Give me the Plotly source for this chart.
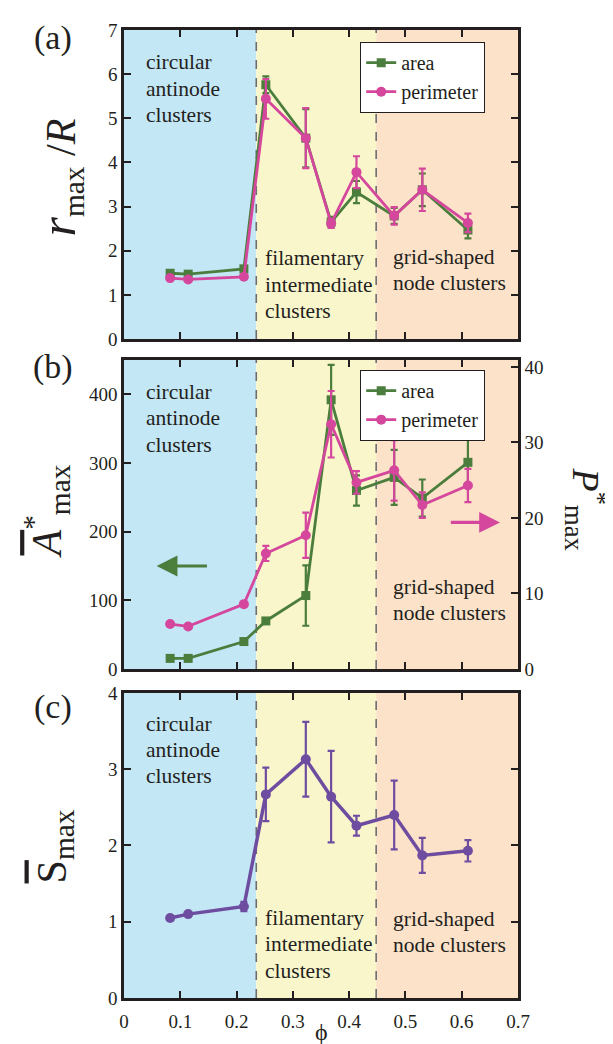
import plotly.graph_objects as go

# ---------------- data ----------------
phi = [0.082, 0.114, 0.213, 0.252, 0.323, 0.368, 0.413, 0.480, 0.530, 0.611]

r_area = [1.49, 1.47, 1.59, 5.76, 4.55, 2.65, 3.33, 2.79, 3.38, 2.47]
r_area_err = [0.0, 0.0, 0.0, 0.19, 0.66, 0.12, 0.25, 0.18, 0.37, 0.19]
r_perim = [1.38, 1.35, 1.41, 5.44, 4.55, 2.62, 3.78, 2.79, 3.38, 2.63]
r_perim_err = [0.0, 0.0, 0.0, 0.45, 0.68, 0.10, 0.36, 0.20, 0.48, 0.21]

A_area = [15.5, 15.5, 40, 70, 107, 392, 260, 279, 249, 301]
A_area_err = [0, 0, 0, 0, 44, 51, 22, 40, 27, 36]
P_perim = [5.95, 5.64, 8.59, 15.3, 17.7, 32.4, 24.7, 26.3, 21.7, 24.3]
P_perim_err = [0, 0, 0, 1.0, 3.0, 4.4, 1.5, 4.0, 1.7, 2.2]

S_vals = [1.05, 1.10, 1.20, 2.67, 3.13, 2.64, 2.26, 2.40, 1.87, 1.93]
S_err = [0.0, 0.0, 0.06, 0.35, 0.49, 0.60, 0.13, 0.45, 0.23, 0.14]

regions = [0.0, 0.235, 0.448, 0.7]
region_colors = ["#c4e7f6", "#faf6cc", "#fbe2c8"]
x_ticks = [0, 0.1, 0.2, 0.3, 0.4, 0.5, 0.6, 0.7]

GREEN = "#4b7d3d"
PINK = "#d4479c"
PURPLE = "#6e4ca0"
INK = "#231f20"
SERIF = "Liberation Serif, Times New Roman, Times, DejaVu Serif, serif"

# ---------------- figure ----------------
W, H = 613, 1044
ML, MR, MT, MB = 116, 103, 19, 54
ph = H - MT - MB


def dom(top_px, bot_px):
    return [(H - MB - bot_px) / ph, (H - MB - top_px) / ph]


dom_a = dom(19, 329)
dom_b = dom(350, 660)
dom_c = dom(684, 990)

fig = go.Figure()


def err(vals, color):
    return dict(type="data", array=vals, visible=True, color=color,
                thickness=2.2, width=3.5)


# panel (a)
fig.add_trace(go.Scatter(x=phi, y=r_area, name="area", mode="lines+markers",
                         line=dict(color=GREEN, width=2.8),
                         marker=dict(symbol="square", size=9, color=GREEN),
                         error_y=err(r_area_err, GREEN),
                         xaxis="x", yaxis="y", legend="legend"))
fig.add_trace(go.Scatter(x=phi, y=r_perim, name="perimeter", mode="lines+markers",
                         line=dict(color=PINK, width=2.8),
                         marker=dict(symbol="circle", size=10, color=PINK),
                         error_y=err(r_perim_err, PINK),
                         xaxis="x", yaxis="y", legend="legend"))
# panel (b)
fig.add_trace(go.Scatter(x=phi, y=A_area, name="area", mode="lines+markers",
                         line=dict(color=GREEN, width=2.8),
                         marker=dict(symbol="square", size=9, color=GREEN),
                         error_y=err(A_area_err, GREEN),
                         xaxis="x2", yaxis="y2", legend="legend2"))
fig.add_trace(go.Scatter(x=phi, y=P_perim, name="perimeter", mode="lines+markers",
                         line=dict(color=PINK, width=2.8),
                         marker=dict(symbol="circle", size=10, color=PINK),
                         error_y=err(P_perim_err, PINK),
                         xaxis="x2", yaxis="y3", legend="legend2"))
# panel (c)
fig.add_trace(go.Scatter(x=phi, y=S_vals, name="S", mode="lines+markers",
                         line=dict(color=PURPLE, width=3.5),
                         marker=dict(symbol="circle", size=10, color=PURPLE),
                         error_y=err(S_err, PURPLE),
                         xaxis="x3", yaxis="y4", showlegend=False))

tickfont = dict(family=SERIF, size=19, color=INK)
axis_base = dict(showline=True, linecolor=INK, linewidth=2.5, ticks="inside",
                 ticklen=7, tickwidth=2, tickcolor=INK, showgrid=False,
                 zeroline=False, tickfont=tickfont)

xcommon = dict(axis_base, range=[0, 0.7], tickvals=x_ticks, mirror="ticks",
               domain=[0, 1])

shapes = []
for xa, ya in (("x", "y"), ("x2", "y2"), ("x3", "y4")):
    for i, col in enumerate(region_colors):
        shapes.append(dict(type="rect", xref=xa, yref=ya + " domain",
                           x0=regions[i], x1=regions[i + 1], y0=0, y1=1,
                           fillcolor=col, line=dict(width=0), layer="below"))
    for b in regions[1:3]:
        shapes.append(dict(type="line", xref=xa, yref=ya + " domain",
                           x0=b, x1=b, y0=0, y1=1, layer="below",
                           line=dict(color="#6d6e71", width=1.6, dash="dash")))

legend_style = dict(xanchor="left", yanchor="top", bgcolor="white",
                    bordercolor=INK, borderwidth=1.2,
                    font=dict(family=SERIF, size=20, color=INK),
                    tracegroupgap=0, itemwidth=30)

fig.update_layout(
    width=W, height=H,
    margin=dict(l=ML, r=MR, t=MT, b=MB),
    paper_bgcolor="white", plot_bgcolor="white",
    font=dict(family=SERIF, color=INK),
    xaxis=dict(xcommon, anchor="y", showticklabels=False),
    yaxis=dict(axis_base, domain=dom_a, range=[0, 7], dtick=1, mirror="ticks",
               anchor="x"),
    xaxis2=dict(xcommon, anchor="y2", showticklabels=False),
    yaxis2=dict(axis_base, domain=dom_b, range=[0, 450], dtick=100, mirror=True,
                anchor="x2"),
    yaxis3=dict(axis_base, overlaying="y2", side="right", range=[0, 450 / 11],
                tickvals=[0, 10, 20, 30, 40], anchor="x2"),
    xaxis3=dict(xcommon, anchor="y4", showticklabels=True, ticklabelstandoff=4),
    yaxis4=dict(axis_base, domain=dom_c, range=[0, 4], dtick=1, mirror="ticks",
                anchor="x3"),
    shapes=shapes,
    legend=dict(legend_style, x=(352 - ML) / (W - ML - MR), y=(H - MB - 31) / ph),
    legend2=dict(legend_style, x=(352 - ML) / (W - ML - MR), y=(H - MB - 360) / ph),
)


def px2px(xp):
    return (xp - ML) / (W - ML - MR)


def py2py(yp):
    return (H - MB - yp) / ph


ann = []


def txt(x, y, s, size=21.5, **kw):
    ann.append(dict(x=px2px(x), y=py2py(y), xref="paper", yref="paper",
                    text=s, showarrow=False, xanchor=kw.pop("xanchor", "left"),
                    yanchor=kw.pop("yanchor", "middle"),
                    font=dict(family=SERIF, size=size, color=INK), **kw))


# region labels
for lines, x0, ys in (
    (["circular", "antinode", "clusters"], 136, [51, 78, 104]),
    (["filamentary", "intermediate", "clusters"], 255, [248, 275, 301]),
    (["grid-shaped", "node clusters"], 383, [247, 273]),
    (["circular", "antinode", "clusters"], 136, [382, 408, 435]),
    (["grid-shaped", "node clusters"], 383, [578, 604]),
    (["circular", "antinode", "clusters"], 136, [715, 741, 767]),
    (["filamentary", "intermediate", "clusters"], 255, [910, 936, 963]),
    (["grid-shaped", "node clusters"], 383, [911, 937]),
):
    for s, y in zip(lines, ys):
        txt(x0, y, s)

# panel letters
txt(45, 27, "(a)", size=34, xanchor="center")
txt(45, 357, "(b)", size=34, xanchor="center")
txt(45, 698, "(c)", size=34, xanchor="center")

# axis titles
OL = '<span style="text-decoration:overline">%s</span>'
txt(52, 167, '<i><span style="font-size:50px">r</span></i><sub>max</sub> /<i>R</i>',
    size=42, xanchor="center", textangle=-90)
txt(38, 502, "<i>" + OL % "A" + "</i><sup>*</sup><sub>max</sub>",
    size=42, xanchor="center", textangle=-90)
txt(578, 499, "<i>" + OL % "P" + "</i><sup>*</sup><sub>max</sub>",
    size=38, xanchor="center", textangle=90)
txt(47, 838, OL % "S" + "<sub>max</sub>", size=42, xanchor="center",
    textangle=-90)
txt(313, 1024, "\u03d5", size=24, xanchor="center")

# arrows in panel (b)
ann.append(dict(x=0.058, y=150, ax=0.15, ay=150, xref="x2", yref="y2",
                axref="x2", ayref="y2", showarrow=True, arrowhead=2,
                arrowsize=1.3, arrowwidth=3.2, arrowcolor=GREEN, text=""))
ann.append(dict(x=0.668, y=19.4, ax=0.578, ay=19.4, xref="x2", yref="y3",
                axref="x2", ayref="y3", showarrow=True, arrowhead=2,
                arrowsize=1.3, arrowwidth=3.2, arrowcolor=PINK, text=""))

fig.update_layout(annotations=ann)
fig.write_html("out.html")
